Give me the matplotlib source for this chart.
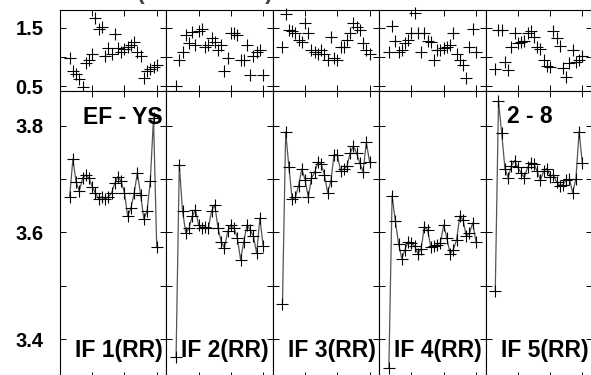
import matplotlib
matplotlib.use("Agg")
import matplotlib.pyplot as plt

plt.rcParams['font.family'] = ['Liberation Sans', 'DejaVu Sans']
plt.rcParams['font.weight'] = 'bold'

# frame index, shared by every panel
frames = list(range(3, 31))

panel_labels = ["IF 1(RR)", "IF 2(RR)", "IF 3(RR)", "IF 4(RR)", "IF 5(RR)"]

# upper strip (scatter only)
top_if1 = [0.98, 0.75, 0.70, 0.62, 0.48, 0.89, 0.95, 1.06, 1.67, 1.48,
           1.52, 1.02, 1.15, 1.05, 1.39, 1.15, 1.09, 1.13, 1.18, 1.21,
           1.25, 1.09, 1.01, 0.63, 0.75, 0.80, 0.83, 0.86]
top_if2 = [0.50, 0.95, 1.09, 1.38, 1.24, 1.43, 1.21, 1.44, 1.49, 1.18,
           1.21, 1.32, 1.26, 1.12, 1.21, 0.75, 0.98, 1.41, 1.41, 1.38,
           0.95, 0.95, 1.21, 0.69, 1.01, 1.09, 1.12, 0.69]
top_if3 = [1.18, 1.74, 1.47, 1.45, 1.41, 1.29, 1.26, 1.59, 1.41, 1.12,
           1.09, 1.06, 1.12, 1.06, 0.95, 1.35, 0.98, 0.95, 1.18, 1.18,
           1.29, 1.41, 1.58, 1.52, 1.47, 1.24, 1.12, 1.06]
top_if4 = [1.08, 1.54, 1.27, 1.08, 1.12, 1.24, 1.29, 1.41, 1.75, 1.41,
           1.09, 1.41, 1.27, 1.25, 0.95, 1.12, 1.12, 1.15, 1.18, 1.21,
           1.42, 1.06, 0.95, 0.86, 0.63, 1.18, 1.48, 1.09]
top_if5 = [0.79, 1.47, 1.47, 0.92, 0.78, 1.18, 1.41, 1.24, 1.25, 1.27,
           1.41, 1.44, 1.34, 1.18, 1.13, 0.95, 0.85, 0.83, 1.44, 1.32,
           1.19, 0.81, 0.66, 0.89, 1.12, 0.92, 0.95, 1.01]

# lower panel (line + markers)
bot_if1 = [3.667, 3.738, 3.694, 3.678, 3.702, 3.708, 3.702, 3.686, 3.674, 3.663,
           3.667, 3.663, 3.667, 3.674, 3.693, 3.705, 3.696, 3.674, 3.630, 3.646,
           3.674, 3.712, 3.671, 3.625, 3.640, 3.696, 3.815, 3.572]
bot_if2 = [3.367, 3.727, 3.641, 3.599, 3.608, 3.630, 3.643, 3.614, 3.608, 3.611,
           3.608, 3.640, 3.652, 3.608, 3.583, 3.571, 3.602, 3.614, 3.608, 3.590,
           3.549, 3.583, 3.614, 3.605, 3.593, 3.561, 3.627, 3.575]
bot_if3 = [3.466, 3.789, 3.722, 3.663, 3.666, 3.688, 3.719, 3.699, 3.666, 3.702,
           3.713, 3.732, 3.729, 3.708, 3.675, 3.696, 3.746, 3.746, 3.716, 3.719,
           3.724, 3.749, 3.762, 3.749, 3.730, 3.714, 3.769, 3.733]
bot_if4 = [3.345, 3.669, 3.622, 3.579, 3.551, 3.568, 3.583, 3.580, 3.574, 3.560,
           3.569, 3.611, 3.605, 3.573, 3.575, 3.577, 3.581, 3.614, 3.589, 3.560,
           3.568, 3.586, 3.631, 3.624, 3.593, 3.599, 3.618, 3.583]
bot_if5 = [3.491, 3.846, 3.786, 3.720, 3.703, 3.725, 3.735, 3.722, 3.712, 3.703,
           3.722, 3.731, 3.728, 3.715, 3.698, 3.715, 3.720, 3.705, 3.708, 3.695,
           3.688, 3.690, 3.698, 3.700, 3.675, 3.700, 3.789, 3.730]

top_series = [top_if1, top_if2, top_if3, top_if4, top_if5]
bot_series = [bot_if1, bot_if2, bot_if3, bot_if4, bot_if5]

W, H = 591, 375
fig = plt.figure(figsize=(W / 100, H / 100), dpi=100)


def px_axes(left, top, width, height):
    # axes placed in pixel coordinates measured from the top-left corner
    return fig.add_axes([left / W, 1 - (top + height) / H, width / W, height / H])


def style(ax, first):
    ax.set_xlim(0, 33)
    ax.set_xticks([10, 20, 30])
    ax.tick_params(direction='in', length=4.3, width=0.7, top=True, right=True,
                   labelbottom=False, labelleft=first, labelsize=14.5, pad=12)
    for s in ax.spines.values():
        s.set_linewidth(0.8)
        s.set_color('black')


panel_w = 106.4
for i in range(5):
    left = 60 + panel_w * i
    ax_top = px_axes(left, 10, panel_w, 80.7)
    ax_bot = px_axes(left, 90.7, panel_w, 287.3)

    ax_top.plot(frames, top_series[i], '+', color='black', ms=8.5, mew=0.8,
                clip_on=False)
    ax_top.set_ylim(0.419, 1.81)
    ax_top.set_yticks([0.5, 1.0, 1.5])
    ax_top.set_yticklabels(['0.5', '', '1.5'])
    style(ax_top, i == 0)

    ax_bot.plot(frames, bot_series[i], '-', color='#555555', lw=0.9)
    ax_bot.plot(frames, bot_series[i], '+', color='black', ms=8.5, mew=0.8,
                clip_on=False)
    ax_bot.set_ylim(3.327, 3.866)
    ax_bot.set_yticks([3.4, 3.5, 3.6, 3.7, 3.8])
    ax_bot.set_yticklabels(['3.4', '', '3.6', '', '3.8'])
    style(ax_bot, i == 0)

    ax_bot.text(0.141, 0.073, panel_labels[i], transform=ax_bot.transAxes,
                fontsize=16.5, fontweight='bold', va='baseline', ha='left')
    if i == 0:
        ax_bot.text(0.216, 0.884, "EF - YS", transform=ax_bot.transAxes,
                    fontsize=16.5, fontweight='bold', va='baseline', ha='left')
    if i == 4:
        ax_bot.text(0.201, 0.887, "2 - 8", transform=ax_bot.transAxes,
                    fontsize=16.5, fontweight='bold', va='baseline', ha='left')

# bits of the row above, cut off by the crop (only their lowest pixels show)
fig.text(43 / W, 1 + 0.5 / H, "3.5", fontsize=14.5, fontweight='bold',
         ha='right', va='baseline', color='#777777')
fig.text(137 / W, 1 + 0.5 / H, "(RR interval)", fontsize=16.5,
         fontweight='bold', ha='left', va='baseline', color='#444444')

fig.savefig("out.png", dpi=100)
